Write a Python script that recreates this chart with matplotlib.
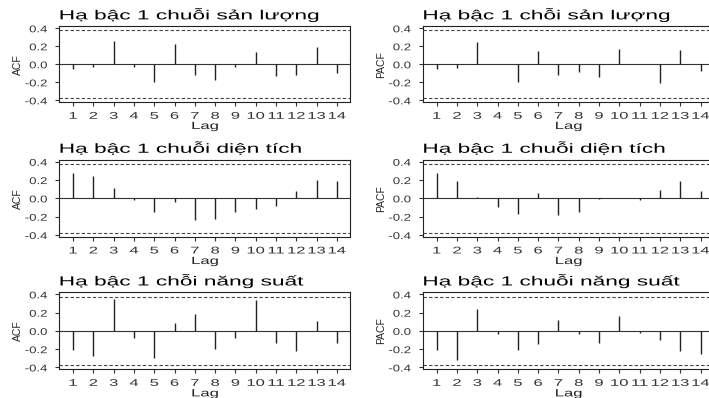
import numpy as np
import matplotlib
matplotlib.use("Agg")
import matplotlib.pyplot as plt
from matplotlib import patheffects
from matplotlib.transforms import Affine2D

plt.rcParams['font.family'] = ['Liberation Sans', 'DejaVu Sans']

# lags shown (lag 0 dropped)
lags = np.arange(1, 15)

# first difference, san luong (output)
acf_sl = [-0.05, -0.035, 0.26, -0.025, -0.20, 0.22, -0.12, -0.17, -0.025, 0.135, -0.125, -0.115, 0.19, -0.10]
pacf_sl = [-0.055, -0.045, 0.25, 0.005, -0.195, 0.15, -0.115, -0.085, -0.14, 0.175, 0.0, -0.205, 0.155, -0.07]
# dien tich (area)
acf_dt = [0.275, 0.245, 0.11, -0.02, -0.15, -0.04, -0.24, -0.23, -0.15, -0.115, -0.085, 0.085, 0.195, 0.19]
pacf_dt = [0.275, 0.185, 0.02, -0.095, -0.17, 0.055, -0.185, -0.15, -0.01, 0.0, -0.02, 0.09, 0.185, 0.075]
# nang suat (yield)
acf_ns = [-0.205, -0.27, 0.355, -0.075, -0.30, 0.085, 0.18, -0.195, -0.08, 0.34, -0.135, -0.225, 0.11, -0.13]
pacf_ns = [-0.205, -0.32, 0.245, -0.035, -0.21, -0.14, 0.115, -0.03, -0.13, 0.16, -0.025, -0.105, -0.215, -0.25]

conf = 0.377
yticks = [-0.4, -0.2, 0.0, 0.2, 0.4]

titles_left = ["Hạ bậc 1 chuỗi sản lượng", "Hạ bậc 1 chuỗi diện tích", "Hạ bậc 1 chỗi năng suất"]
titles_right = ["Hạ bậc 1 chỗi sản lượng", "Hạ bậc 1 chuỗi diện tích", "Hạ bậc 1 chuỗi năng suất"]
acf_rows = [acf_sl, acf_dt, acf_ns]
pacf_rows = [pacf_sl, pacf_dt, pacf_ns]


class Stretch(patheffects.AbstractPathEffect):
    # the source image has horizontally wide lettering
    def __init__(self, sx, anchor=0.5):
        super().__init__()
        self.sx = sx
        self.anchor = anchor

    def draw_path(self, renderer, gc, tpath, affine, rgbFace=None):
        bb = tpath.get_extents(affine)
        x0 = bb.x0 + self.anchor * bb.width
        aff = affine + Affine2D().translate(-x0, 0).scale(self.sx, 1).translate(x0, 0)
        renderer.draw_path(gc, tpath, aff, rgbFace)


W, H = 709, 398
fig = plt.figure(figsize=(W / 100, H / 100), dpi=100)

# axes boxes in pixels: (left, top, width, height)
col_left = [59.5, 423.1]
row_top = [26.3, 159.7, 292.4]
row_h = [76.0, 77.3, 77.0]
box_w = 291.0


def acf_panel(ax, vals, title, ylab):
    ax.axhline(0, color='#333333', lw=0.8)
    ax.vlines(lags, 0, vals, color='#222222', lw=1.0)
    ax.axhline(conf, color='#444444', lw=0.8, ls=(0, (3, 2)))
    ax.axhline(-conf, color='#444444', lw=0.8, ls=(0, (3, 2)))
    ax.set_xlim(0.33, 14.67)
    ax.set_ylim(-0.422, 0.422)
    ax.set_xticks(lags)
    ax.set_yticks(yticks)
    ax.set_yticklabels(['%.1f' % v for v in yticks])
    ax.tick_params(length=2.9, width=0.8, color='#333333', labelcolor='#333333', labelsize=7)
    ax.tick_params(axis='x', pad=3.2)
    ax.tick_params(axis='y', pad=6.0)
    for sp in ax.spines.values():
        sp.set_linewidth(0.8)
        sp.set_color('#222222')
    t = ax.set_title(title, loc='left', fontsize=9.5, pad=5.0, color='black')
    t.set_path_effects([Stretch(1.72, 0.0)])
    xl = ax.set_xlabel('Lag', fontsize=7.5, color='#222222')
    xl.set_path_effects([Stretch(1.6)])
    ax.xaxis.set_label_coords(0.5, -0.246)
    ax.set_ylabel(ylab, fontsize=7.5, color='#222222')
    ax.yaxis.set_label_coords(-0.126, 0.5)
    for lab in ax.get_xticklabels():
        lab.set_path_effects([Stretch(1.7)])
    for lab in ax.get_yticklabels():
        lab.set_path_effects([Stretch(1.35, 1.0)])


for r in range(3):
    for c in range(2):
        l = col_left[c]
        top = row_top[r]
        h = row_h[r]
        ax = fig.add_axes([l / W, 1 - (top + h) / H, box_w / W, h / H])
        if c == 0:
            acf_panel(ax, acf_rows[r], titles_left[r], 'ACF')
        else:
            acf_panel(ax, pacf_rows[r], titles_right[r], 'PACF')

fig.savefig('out.png', dpi=100)
